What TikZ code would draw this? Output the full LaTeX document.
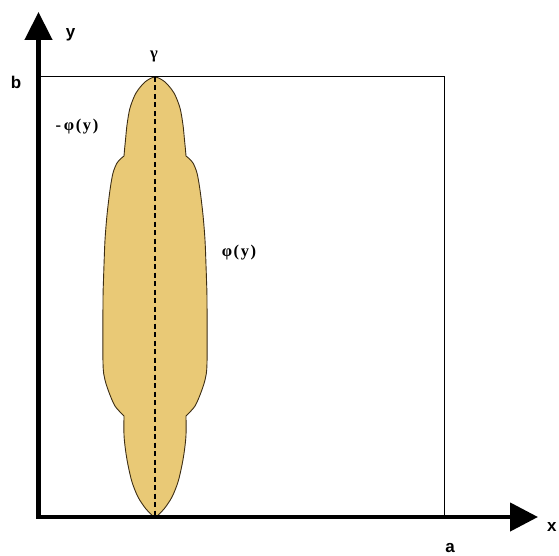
\documentclass[tikz,border=0pt]{standalone}
\usepackage{fontspec}
\setmainfont{Liberation Serif}
\newfontfamily\lsans{Liberation Sans}
\usetikzlibrary{arrows.meta}
\definecolor{tan}{RGB}{233,201,118}
\definecolor{edge}{RGB}{60,45,20}
\tikzset{
  axisline/.style={line width=4.5pt,line join=miter,
    {Triangle[width=27pt,length=28pt]}-{Triangle[width=28pt,length=28pt]}},
  thinline/.style={line width=1pt},
  sanslab/.style={font=\lsans\bfseries\fontsize{17}{17}\selectfont,inner sep=0pt},
  seriflab/.style={font=\bfseries\fontsize{16.5}{17}\selectfont\addfontfeature{LetterSpace=10},inner sep=0pt},
  body/.style={fill=tan,draw=edge,line width=0.9pt},
  axisdash/.style={line width=1.3pt,dash pattern=on 5pt off 3.5pt}
}
\begin{document}
\begin{tikzpicture}[x=1pt,y=-1pt]
\useasboundingbox (0,0) rectangle (559,556);
\coordinate (O) at (38.5,517);
\coordinate (Ytip) at (38.5,12);
\coordinate (Xtip) at (538,517);
\coordinate (B) at (38.5,77);
\coordinate (BR) at (444,77);
\coordinate (AR) at (444,517);
\coordinate (top) at (155,77);
\coordinate (bot) at (155,518);
% body
\draw[body]
 plot[smooth, tension=0.5] coordinates {
   (124,156) (124.5,150) (125.5,140) (127,125) (130,108) (136,93) (145,82)
   (155,77) (165,82) (174,93) (180,108) (183,125) (184.5,140) (185.5,150) (186,156)}
 -- plot[smooth, tension=0.5] coordinates {
   (186,156) (189,158.5) (193,163) (197,173) (200,190) (203,215) (205,240)
   (206,265) (206.5,280) (207,300) (207,363) (205,380) (200,395) (195,406)
   (189,413) (186,416)}
 -- plot[smooth, tension=0.5] coordinates {
   (186,416) (186,435) (184.5,450) (182,465) (178,482) (172,497) (164,509) (155,518)}
 -- plot[smooth, tension=0.5] coordinates {
   (155,518) (146,509) (138,497) (132,482) (128,465) (125.5,450) (124,435) (124,416)}
 -- plot[smooth, tension=0.5] coordinates {
   (124,416) (121,413) (115,406) (110,395) (105,380) (103,363) (103,300)
   (103.5,280) (104,265) (105,240) (107,215) (110,190) (113,173) (117,163)
   (121,158.5) (124,156)}
 -- cycle;
\draw[axisdash] (top) -- (bot);
% frame
\draw[thinline] (B) -- (BR) -- (AR);
% axes
\draw[axisline] (Ytip) -- (O) -- (Xtip);
% labels
\node[sanslab] (ylab) at (70.5,35) {y};
\node[sanslab,anchor=west] (xlab) at (547,527) {x};
\node[sanslab] (blab) at (16,82) {b};
\node[sanslab] (alab) at (450,548) {a};
\node[seriflab] (glab) at (154,56) {γ};
\node[seriflab] (mphi) at (77,127) {-\,φ(y)};
\node[seriflab] (phi) at (239,253) {φ(y)};
\end{tikzpicture}
\end{document}
